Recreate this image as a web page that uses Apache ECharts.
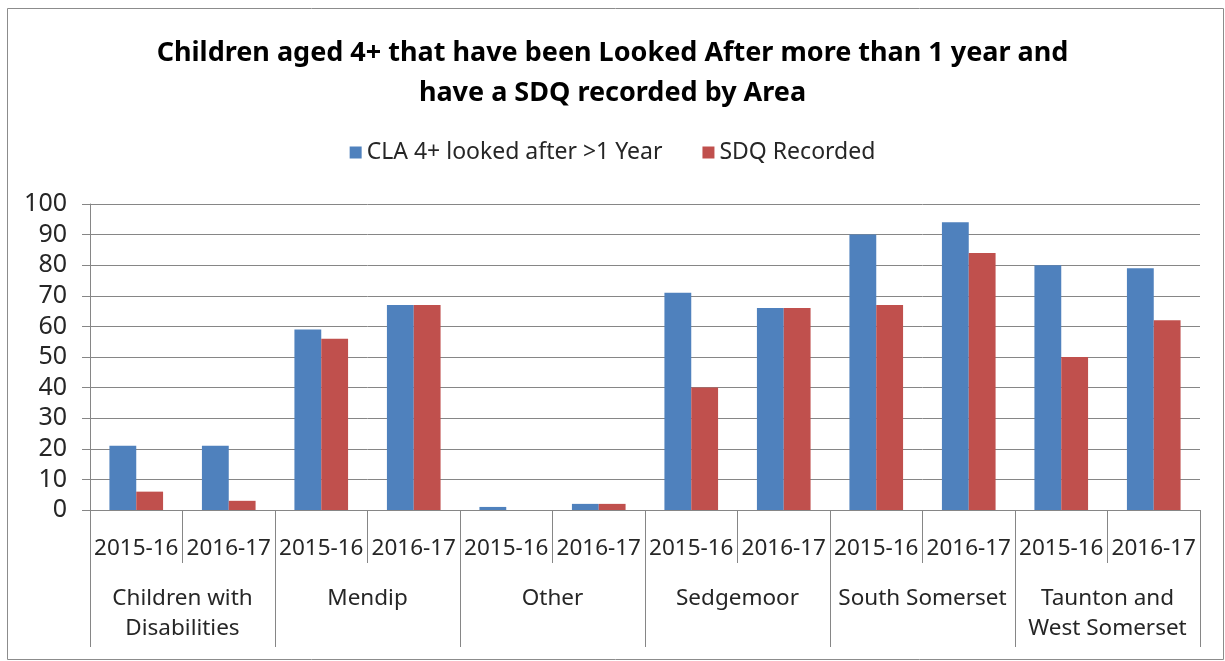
<!DOCTYPE html>
<html>
<head>
<meta charset="utf-8">
<script src="https://cdn.jsdelivr.net/npm/echarts@6/dist/echarts.min.js"></script>
<style>
html,body{margin:0;padding:0;background:#fff;}
#chart{width:1225px;height:661px;}
</style>
</head>
<body>
<div id="chart"></div>
<script>
const years = ['2015-16','2016-17','2015-16','2016-17','2015-16','2016-17','2015-16','2016-17','2015-16','2016-17','2015-16','2016-17'];
const areas = ['Children with\nDisabilities','Mendip','Other','Sedgemoor','South Somerset','Taunton and\nWest Somerset'];
const cla = [21,21,59,67,1,2,71,66,90,94,80,79];
const sdq = [6,3,56,67,0,2,40,66,67,84,50,62];
const yTicks = {min:0,max:100,interval:10};

const FONT = 'Noto Sans';
const chart = echarts.init(document.getElementById('chart'));
chart.setOption({
  animation:false,
  backgroundColor:'#fff',
  textStyle:{fontFamily:FONT},
  graphic:[{type:'rect',shape:{x:7.5,y:8.5,width:1216,height:651},style:{fill:'none',stroke:'#8c8c8c',lineWidth:1},z:-1}],
  title:{
    text:'Children aged 4+ that have been Looked After more than 1 year and\nhave a SDQ recorded by Area',
    left:'center',top:28,
    textStyle:{fontFamily:FONT,fontSize:27,fontWeight:'bold',color:'#000',lineHeight:40}
  },
  legend:{
    top:136,left:'center',
    itemWidth:12,itemHeight:12,itemGap:40,
    icon:'rect',
    textStyle:{fontFamily:FONT,fontSize:23,color:'#262626'},
    data:['CLA 4+ looked after >1 Year','SDQ Recorded']
  },
  grid:{left:90,right:25,top:204,bottom:151,containLabel:false},
  xAxis:[
    {type:'category',data:years,position:'bottom',
     axisLine:{lineStyle:{color:'#868686'}},
     axisTick:{show:true,length:53,lineStyle:{color:'#868686'}},
     axisLabel:{interval:0,fontFamily:FONT,fontSize:22.5,color:'#262626',margin:27}},
    {type:'category',data:areas,position:'bottom',
     axisLine:{show:false},
     axisTick:{show:true,length:137,lineStyle:{color:'#868686'}},
     axisLabel:{interval:0,fontFamily:FONT,fontSize:22.5,color:'#262626',margin:74,lineHeight:30,verticalAlign:'top'}}
  ],
  yAxis:{type:'value',min:yTicks.min,max:yTicks.max,interval:yTicks.interval,
    axisLine:{show:true,lineStyle:{color:'#868686'}},
    axisTick:{show:true,length:8,lineStyle:{color:'#868686'}},
    splitLine:{lineStyle:{color:'#868686'}},
    axisLabel:{fontFamily:FONT,fontSize:25,color:'#262626',margin:23}},
  series:[
    {name:'CLA 4+ looked after >1 Year',type:'bar',xAxisIndex:0,data:cla,itemStyle:{color:'#4F81BD'},barGap:'0%',barCategoryGap:'42%'},
    {name:'SDQ Recorded',type:'bar',xAxisIndex:0,data:sdq,itemStyle:{color:'#C0504D'},barGap:'0%',barCategoryGap:'42%'}
  ]
});
</script>
</body>
</html>
